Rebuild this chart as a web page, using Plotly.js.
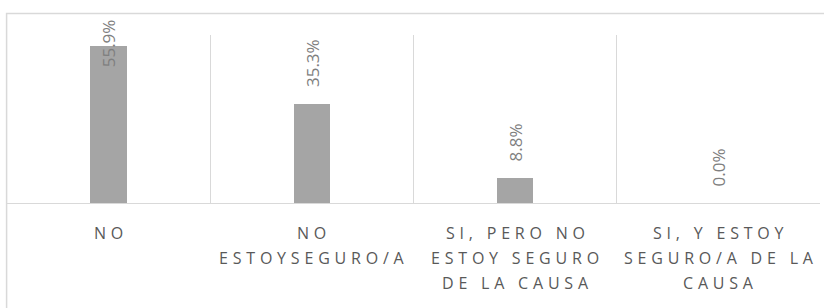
<!DOCTYPE html>
<html>
<head>
<meta charset="utf-8">
<script src="https://cdn.plot.ly/plotly-3.0.1.min.js"></script>
<style>
html,body{margin:0;padding:0;background:#fff;}
#chart{width:824px;height:308px;}
</style>
</head>
<body>
<div id="chart"></div>
<script>
// ---- data ----
const categories = ["NO", "NO ESTOYSEGURO/A", "SI, PERO NO ESTOY SEGURO DE LA CAUSA", "SI, Y ESTOY SEGURO/A DE LA CAUSA"];
const categoryLines = [
  ["NO"],
  ["NO", "ESTOYSEGURO/A"],
  ["SI, PERO NO", "ESTOY SEGURO", "DE LA CAUSA"],
  ["SI, Y ESTOY", "SEGURO/A DE LA", "CAUSA"]
];
const values = [55.9, 35.3, 8.8, 0.0];
const valueLabels = ["55.9%", "35.3%", "8.8%", "0.0%"];

// ---- style ----
const W = 824, H = 308;
const margin = {l: 7, r: 4, t: 35, b: 105, pad: 0};
const yMax = 60;
const plotH = H - margin.t - margin.b;
const pxPerUnit = plotH / yMax;
const labelFont = {family: "Open Sans", size: 17, color: "#7f7f7f"};
const catFont = {family: "Open Sans", size: 16, color: "#595959"};
const spacing = 4.8;

function textWidth(t, f) {
  const c = document.createElement("canvas").getContext("2d");
  c.font = f.size + "px '" + f.family + "'";
  return c.measureText(t).width;
}

const annotations = [];
// value labels, rotated, kept inside the chart area
values.forEach((v, i) => {
  const len = textWidth(valueLabels[i], labelFont);
  const room = (yMax - v) * pxPerUnit + 13;
  const shift = Math.min(15, room - len);
  annotations.push({
    x: categories[i], y: v, xref: "x", yref: "y",
    text: valueLabels[i], textangle: -90, showarrow: false,
    yanchor: "bottom", xanchor: "center", yshift: shift,
    font: labelFont
  });
});
// category labels with letter spacing
categoryLines.forEach((lines, i) => {
  lines.forEach((ln, j) => {
    annotations.push({
      x: categories[i], y: 0, xref: "x", yref: "paper",
      text: '<span style="letter-spacing:' + spacing + 'px">' + ln + '</span>',
      showarrow: false, yanchor: "middle", xanchor: "center",
      xshift: spacing / 2, yshift: -(30 + j * 25),
      font: catFont
    });
  });
});

const trace = {
  type: "bar",
  x: categories,
  y: values,
  width: 0.18,
  marker: {color: "#a5a5a5"},
  hoverinfo: "none"
};

const layout = {
  width: W, height: H,
  margin: margin,
  paper_bgcolor: "#ffffff",
  plot_bgcolor: "#ffffff",
  showlegend: false,
  bargap: 0,
  xaxis: {
    type: "category",
    tickson: "boundaries",
    showgrid: true, gridcolor: "#d9d9d9", gridwidth: 1,
    showline: true, linecolor: "#d9d9d9", linewidth: 1,
    showticklabels: false, ticks: "",
    zeroline: false, fixedrange: true
  },
  yaxis: {
    range: [0, yMax],
    showgrid: false, zeroline: false, showline: false,
    showticklabels: false, ticks: "", fixedrange: true
  },
  shapes: [{
    type: "rect", xref: "paper", yref: "paper",
    x0: -0.0005, x1: 1.02,
    y0: -0.7, y1: 1 + 21.5 / plotH,
    line: {color: "#d9d9d9", width: 1.5}, fillcolor: "rgba(0,0,0,0)", layer: "below"
  }],
  annotations: annotations
};

Plotly.newPlot("chart", [trace], layout, {staticPlot: true, displayModeBar: false});
</script>
</body>
</html>
